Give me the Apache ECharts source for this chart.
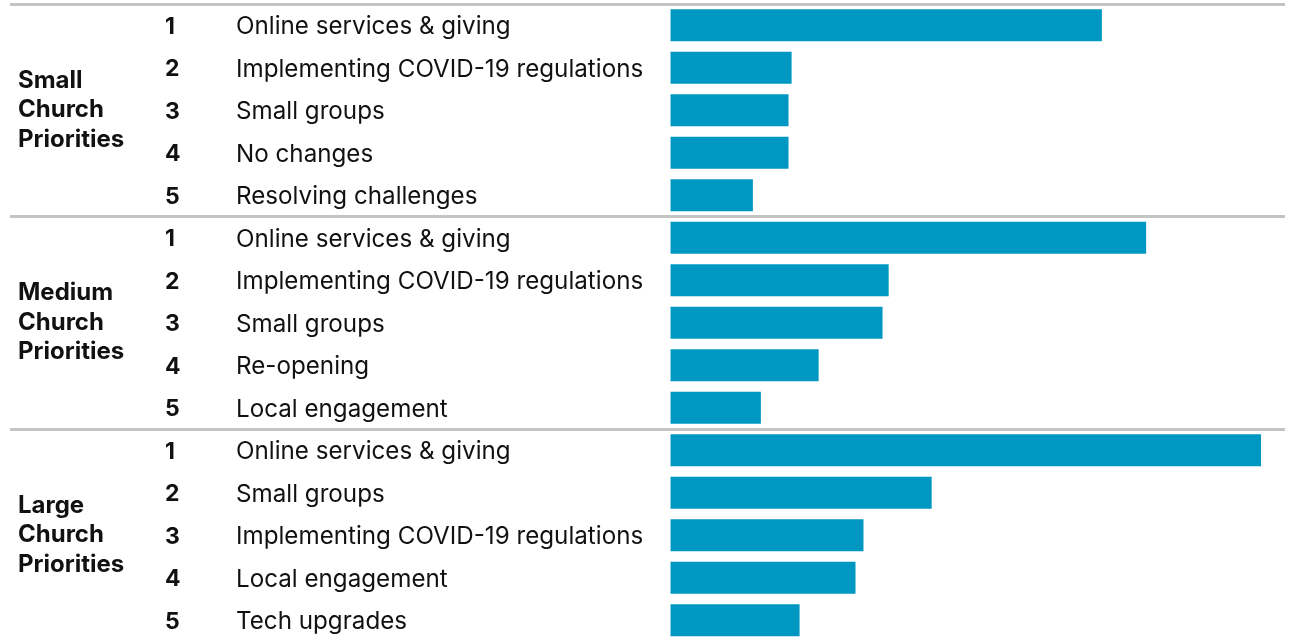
<!DOCTYPE html>
<html>
<head>
<meta charset="utf-8">
<script src="https://cdn.jsdelivr.net/npm/echarts@6/dist/echarts.min.js"></script>
<style>
	html, body { margin: 0; padding: 0; background: #fff; }
	#chart { width: 1291px; height: 638px; }
</style>
</head>
<body>
<div id="chart"></div>
<script>
// group names (three lines each)
var groups = ['Small\nChurch\nPriorities', 'Medium\nChurch\nPriorities', 'Large\nChurch\nPriorities'];

var smallItems = ['Online services & giving', 'Implementing COVID-19 regulations', 'Small groups', 'No changes', 'Resolving challenges'];
var smallValues = [70.2, 19.7, 19.2, 19.2, 13.4];

var mediumItems = ['Online services & giving', 'Implementing COVID-19 regulations', 'Small groups', 'Re-opening', 'Local engagement'];
var mediumValues = [77.4, 35.5, 34.5, 24.1, 14.7];

var largeItems = ['Online services & giving', 'Small groups', 'Implementing COVID-19 regulations', 'Local engagement', 'Tech upgrades'];
var largeValues = [96.1, 42.5, 31.4, 30.1, 21.0];

var ranks = ['1', '2', '3', '4', '5'];

// flatten into rows
var rows = [];
var values = [];
[[smallItems, smallValues], [mediumItems, mediumValues], [largeItems, largeValues]].forEach(function (g) {
	for (var i = 0; i < g[0].length; i++) {
		rows.push({ rank: ranks[i], name: g[0][i] });
		values.push(g[1][i]);
	}
});

var chart = echarts.init(document.getElementById('chart'));
var option = {
	animation: false,
	grid: {
		left: 10,
		right: 6,
		top: 4,
		height: 637.5,
		outerBoundsMode: 'none'
	},
	xAxis: {
		type: 'value',
		min: -107.5, // leaves room on the left for the labels
		max: 100,
		show: false
	},
	yAxis: [
		{
			type: 'category',
			inverse: true,
			data: rows.map(function (r, i) { return String(i); }),
			axisLine: { show: false },
			axisTick: { show: false },
			splitLine: { show: false },
			axisLabel: {
				inside: true,
				margin: 155,
				align: 'left',
				interval: 0,
				formatter: function (value, idx) {
					var r = rows[idx];
					return '{r|' + r.rank + '}{n|' + r.name + '}';
				},
				rich: {
					r: { width: 71, fontSize: 23, fontWeight: 'bold', color: '#111', fontFamily: 'Inter', padding: [3, 0, 0, 0] },
					n: { fontSize: 24.2, color: '#111', fontFamily: 'Inter', padding: [3, 0, 0, 0] }
				}
			}
		},
		{
			type: 'category',
			inverse: true,
			position: 'left',
			data: groups,
			axisLine: { show: false },
			axisTick: { show: false },
			splitLine: {
				show: true,
				interval: 0,
				lineStyle: { color: '#c4c4c4', width: 3 }
			},
			axisLabel: {
				inside: true,
				margin: 8,
				align: 'left',
				interval: 0,
				fontSize: 24,
				fontWeight: 'bold',
				lineHeight: 29.5,
				padding: [2, 0, 0, 0],
				color: '#111',
				fontFamily: 'Inter'
			}
		}
	],
	series: [
		{
			type: 'bar',
			yAxisIndex: 0,
			data: values,
			barWidth: 32,
			itemStyle: { color: '#0097c2' }
		}
	]
};
chart.setOption(option);
</script>
</body>
</html>
